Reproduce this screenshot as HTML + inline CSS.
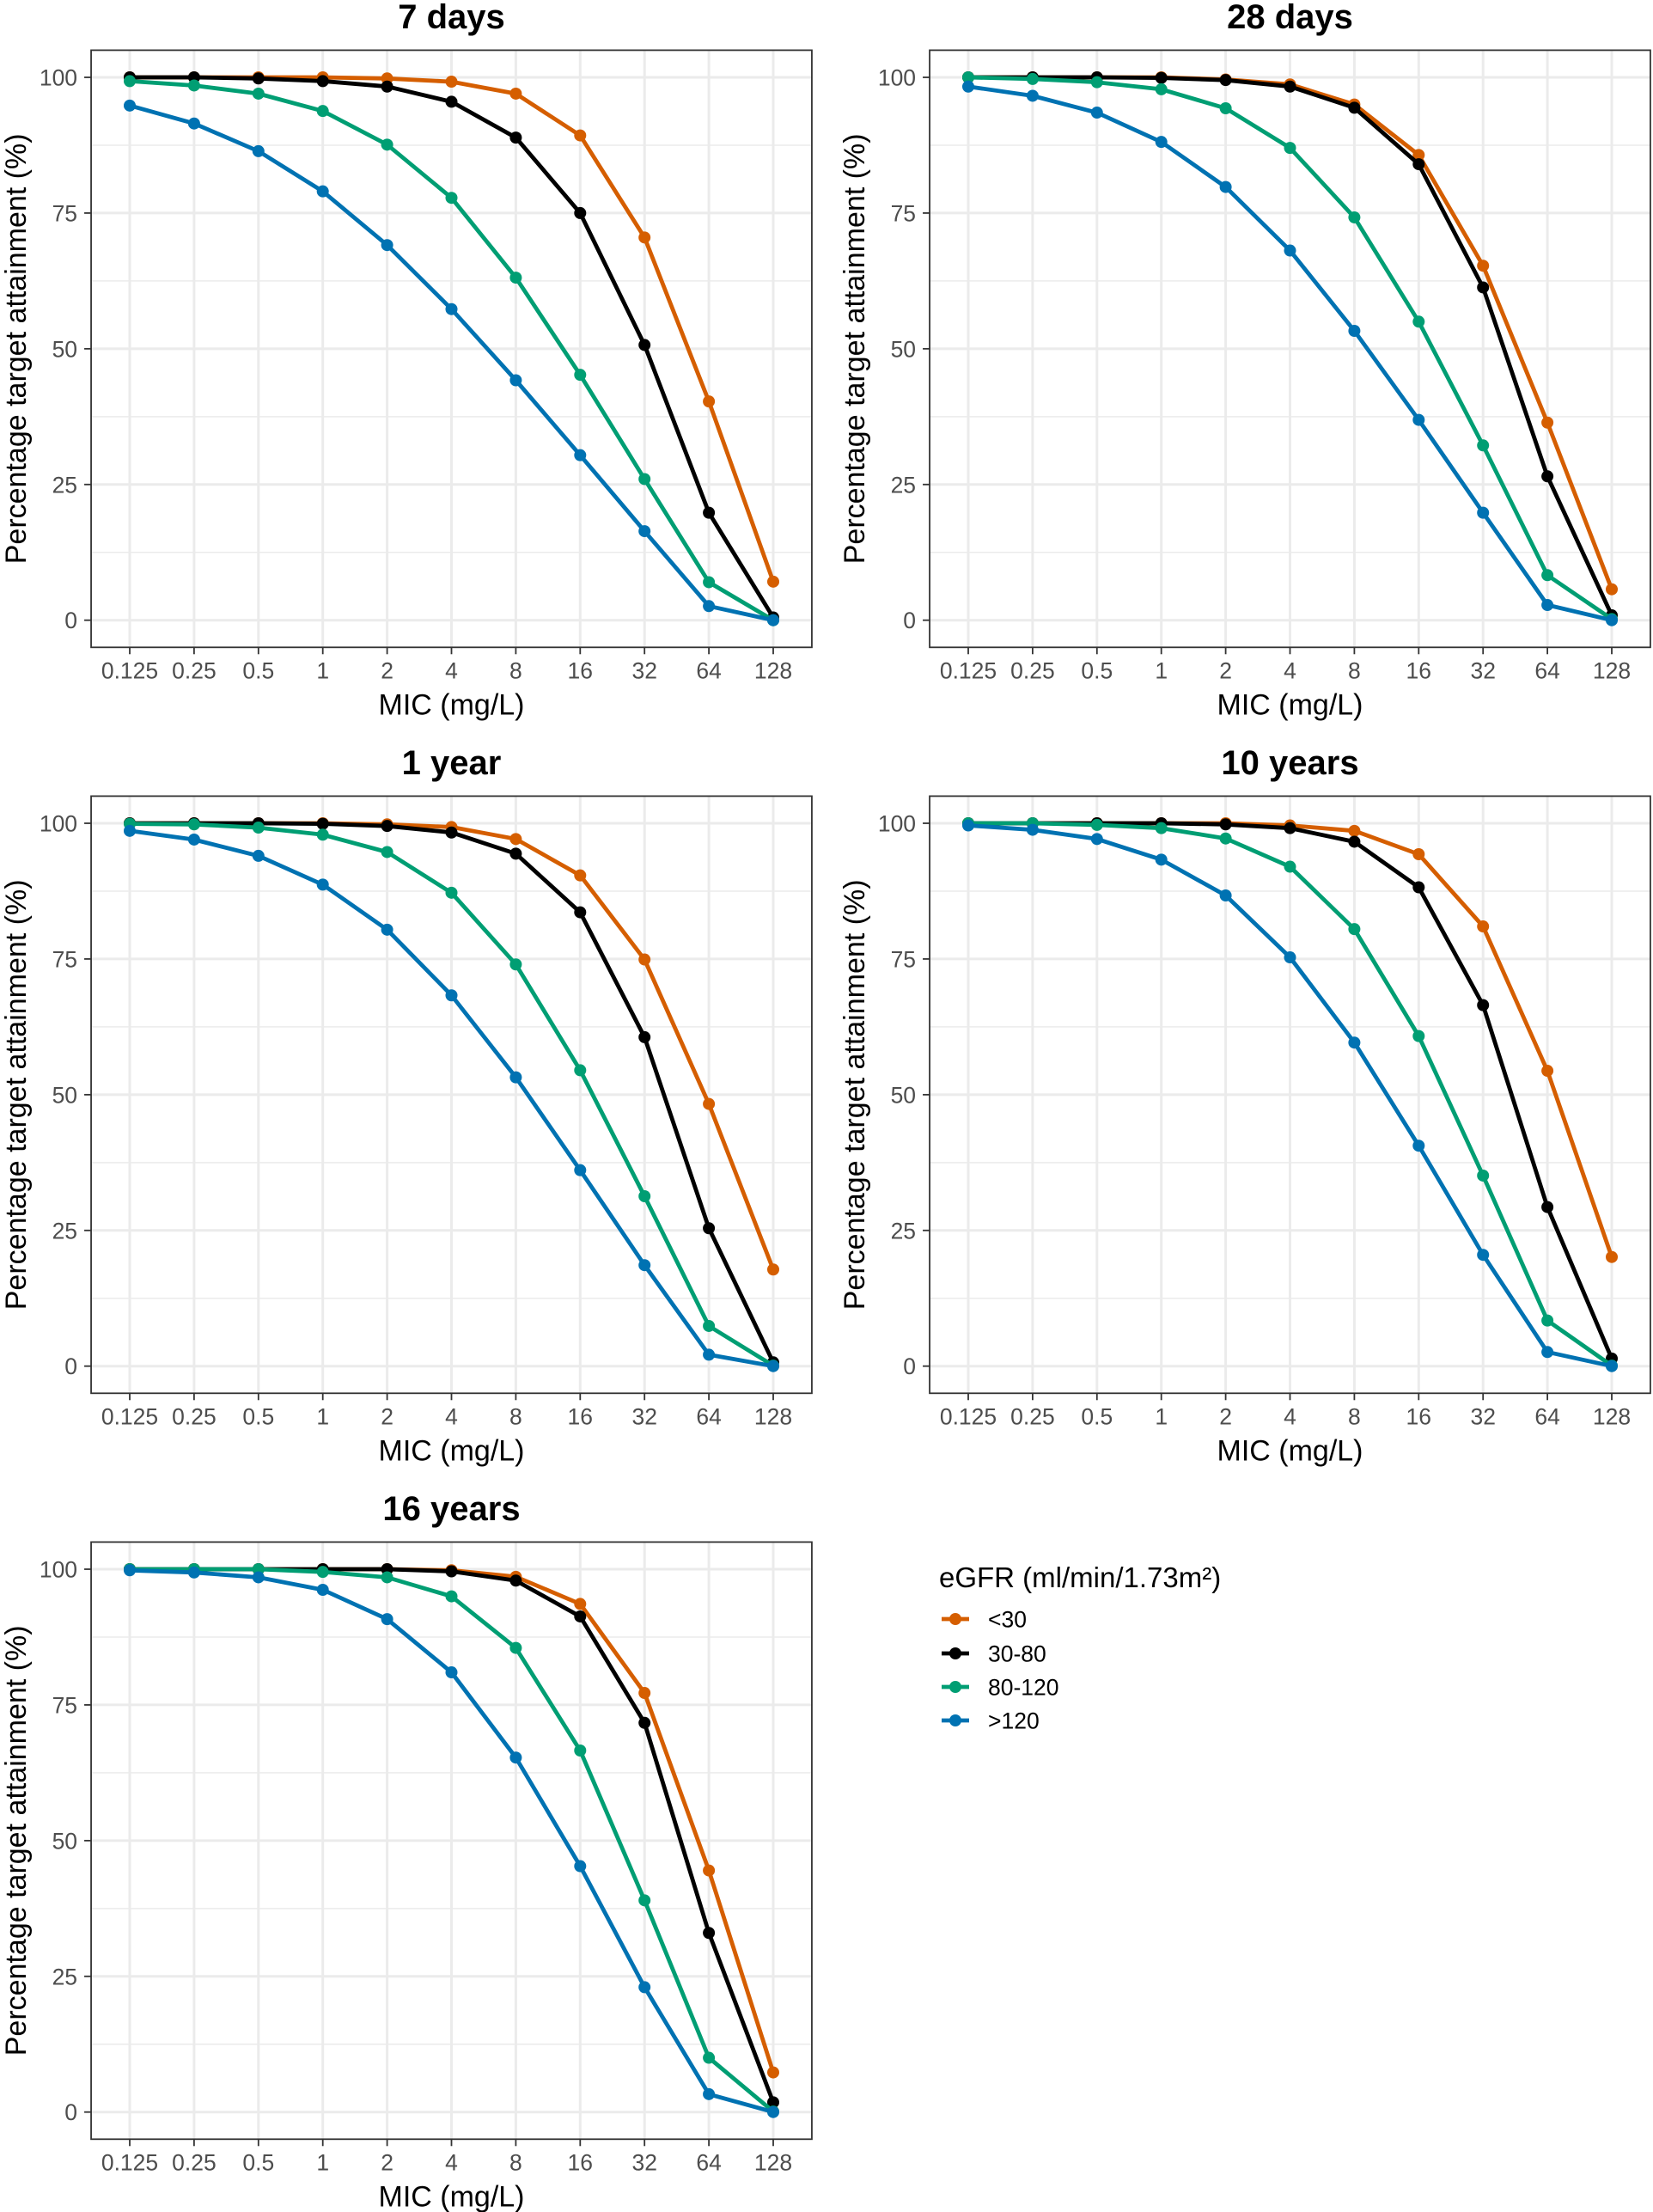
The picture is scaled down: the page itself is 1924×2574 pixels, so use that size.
<!DOCTYPE html>
<html><head><meta charset="utf-8"><style>
html,body{margin:0;padding:0;background:#fff;}
svg{display:block;font-family:"Liberation Sans",Arial,sans-serif;}
</style></head>
<body>
<svg id="chart" width="1924" height="2574" viewBox="0 0 1924 2574" xmlns="http://www.w3.org/2000/svg"></svg>
<script>
const categories = ["0.125","0.25","0.5","1","2","4","8","16","32","64","128"];
const yTicks = [0,25,50,75,100];
const panelTitles = ["7 days","28 days","1 year","10 years","16 years"];
const seriesNames = ["<30","30-80","80-120",">120"];
const seriesColors = ["#D55E00","#000000","#009E73","#0072B2"];

const d7_lt30 = [100,100,100,100,99.8,99.2,97,89.3,70.5,40.3,7.1];
const d7_30_80 = [100,100,99.8,99.3,98.3,95.5,88.9,75,50.7,19.8,0.5];
const d7_80_120 = [99.3,98.5,97,93.8,87.6,77.8,63.1,45.2,26,7,0];
const d7_gt120 = [94.8,91.5,86.4,79,69.1,57.3,44.2,30.4,16.4,2.6,0];

const d28_lt30 = [100,100,100,100,99.6,98.7,95,85.7,65.3,36.4,5.7];
const d28_30_80 = [100,100,100,99.9,99.5,98.3,94.4,84,61.3,26.5,0.9];
const d28_80_120 = [100,99.7,99.1,97.8,94.3,87,74.2,55,32.2,8.3,0.2];
const d28_gt120 = [98.3,96.6,93.5,88.1,79.8,68.1,53.3,36.9,19.8,2.8,0];

const y1_lt30 = [100,100,100,100,99.8,99.3,97.1,90.4,74.9,48.3,17.8];
const y1_30_80 = [100,100,100,99.9,99.5,98.3,94.4,83.6,60.6,25.4,0.7];
const y1_80_120 = [99.9,99.8,99.2,97.9,94.7,87.2,74,54.5,31.3,7.4,0.1];
const y1_gt120 = [98.6,97,94,88.7,80.4,68.3,53.2,36.1,18.6,2.1,0];

const y10_lt30 = [100,100,100,100,100,99.6,98.6,94.3,81,54.4,20.1];
const y10_30_80 = [100,100,100,100,99.8,99.1,96.6,88.2,66.5,29.3,1.4];
const y10_80_120 = [100,100,99.7,99.1,97.2,92,80.5,60.8,35.1,8.4,0.1];
const y10_gt120 = [99.6,98.8,97.1,93.3,86.7,75.3,59.6,40.6,20.5,2.6,0];

const y16_lt30 = [100,100,100,100,100,99.8,98.6,93.6,77.2,44.5,7.3];
const y16_30_80 = [100,100,100,100,100,99.6,97.9,91.3,71.7,33,1.8];
const y16_80_120 = [100,100,100,99.5,98.5,95,85.5,66.6,39,10,0.1];
const y16_gt120 = [99.8,99.4,98.5,96.2,90.8,81,65.3,45.3,23,3.3,0];

const panelData = [
  [d7_lt30,d7_30_80,d7_80_120,d7_gt120],
  [d28_lt30,d28_30_80,d28_80_120,d28_gt120],
  [y1_lt30,y1_30_80,y1_80_120,y1_gt120],
  [y10_lt30,y10_30_80,y10_80_120,y10_gt120],
  [y16_lt30,y16_30_80,y16_80_120,y16_gt120]
];

const NS = "http://www.w3.org/2000/svg";
const svg = document.getElementById("chart");
function mk(tag, attrs, parent, text){
  const e = document.createElementNS(NS, tag);
  for (const k in attrs) e.setAttribute(k, attrs[k]);
  if (text !== undefined) e.textContent = text;
  (parent||svg).appendChild(e);
  return e;
}
const colX = [151, 1127];
const rowY = [90, 958, 1826];
const step = 74.9, plotH = 631.7;

panelData.forEach((series, p) => {
  const x0 = colX[p % 2], y100 = rowY[Math.floor(p / 2)];
  const y0 = y100 + plotH;
  const xs = i => x0 + i * step;
  const ys = v => y0 - v / 100 * plotH;
  const left = x0 - 0.6 * step, right = xs(categories.length - 1) + 0.6 * step;
  const top = ys(105), bottom = ys(-5);
  const g = mk("g", {});
  
  
  mk("rect", {x:left, y:top, width:right-left, height:bottom-top, fill:"#fff"}, g);
  for (let k = 0; k < yTicks.length - 1; k++) {
    const v = (yTicks[k] + yTicks[k+1]) / 2;
    mk("line", {x1:left, x2:right, y1:ys(v), y2:ys(v), stroke:"#ebebeb", "stroke-width":1.5}, g);
  }
  yTicks.forEach(v => {
    mk("line", {x1:left, x2:right, y1:ys(v), y2:ys(v), stroke:"#ebebeb", "stroke-width":3}, g);
  });
  categories.forEach((c, i) => {
    mk("line", {x1:xs(i), x2:xs(i), y1:top, y2:bottom, stroke:"#ebebeb", "stroke-width":3}, g);
  });
  series.forEach((vals, s) => {
    const pts = vals.map((v, i) => xs(i).toFixed(1) + "," + ys(v).toFixed(1)).join(" ");
    const pl = mk("polyline", {points:pts, fill:"none", stroke:seriesColors[s], "stroke-width":4.8, "stroke-linejoin":"round"}, g);
    
    
    vals.forEach((v, i) => {
      const c = mk("circle", {cx:xs(i), cy:ys(v), r:7, fill:seriesColors[s]}, g);
      
      
    });
  });
  mk("rect", {x:left, y:top, width:right-left, height:bottom-top, fill:"none", stroke:"#333", "stroke-width":1.8}, g);
  yTicks.forEach(v => {
    mk("line", {x1:left-8, x2:left, y1:ys(v), y2:ys(v), stroke:"#333", "stroke-width":1.8}, g);
    const t = mk("text", {x:left-16, y:ys(v)+9.5, "text-anchor":"end", "font-size":26.5, fill:"#4d4d4d"}, g, String(v));
    
    
  });
  categories.forEach((c, i) => {
    mk("line", {x1:xs(i), x2:xs(i), y1:bottom, y2:bottom+8, stroke:"#333", "stroke-width":1.8}, g);
    const t = mk("text", {x:xs(i), y:y0+68, "text-anchor":"middle", "font-size":26.5, fill:"#4d4d4d"}, g, c);
    
    
  });
  const xt = mk("text", {x:(left+right)/2, y:y0+110, "text-anchor":"middle", "font-size":34, fill:"#000"}, g, "MIC (mg/L)");
  
  
  const ymid = (top + bottom) / 2, yx = x0 - 121;
  const yt = mk("text", {x:yx, y:ymid, "text-anchor":"middle", "font-size":34, fill:"#000", transform:"rotate(-90 "+yx+" "+ymid+")"}, g, "Percentage target attainment (%)");
  
  
  const pt = mk("text", {x:(left+right)/2, y:y100-57, "text-anchor":"middle", "font-size":40, "font-weight":"bold", fill:"#000"}, g, panelTitles[p]);
  
  
});

const lg = mk("g", {});


const lt = mk("text", {x:1093, y:1847, "font-size":33, fill:"#000"}, lg, "eGFR (ml/min/1.73m²)");


const legendY = [1884, 1924, 1963, 2002];
seriesNames.forEach((n, s) => {
  const e = mk("g", {}, lg);
  
  
  mk("line", {x1:1096, x2:1128, y1:legendY[s], y2:legendY[s], stroke:seriesColors[s], "stroke-width":4.8}, e);
  mk("circle", {cx:1112, cy:legendY[s], r:7, fill:seriesColors[s]}, e);
  mk("text", {x:1150, y:legendY[s]+9.5, "font-size":26.5, fill:"#000"}, e, n);
});
</script>
</body></html>
